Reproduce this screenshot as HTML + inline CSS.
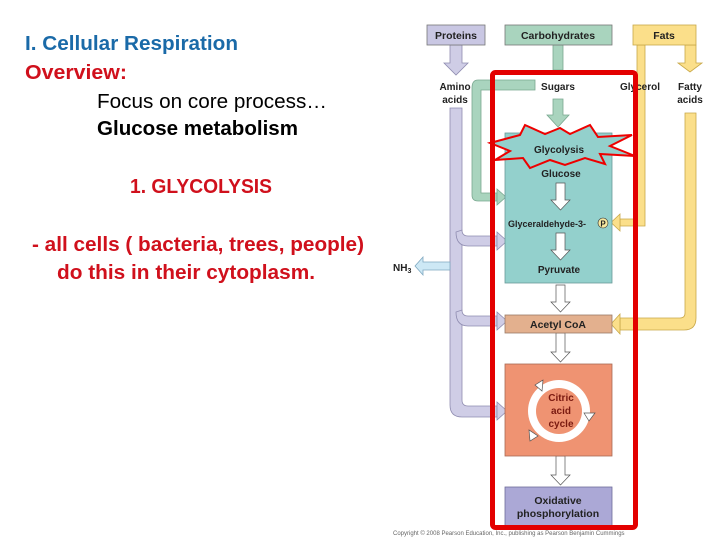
<!DOCTYPE html>
<html><head><style>body{margin:0;background:#fff}svg{display:block}</style></head><body>
<svg width="720" height="540" xmlns="http://www.w3.org/2000/svg" font-family="Liberation Sans, sans-serif">
<g font-size="20" font-weight="bold">
<text x="25" y="50" fill="#1a6aa8" textLength="213" lengthAdjust="spacingAndGlyphs">I. Cellular Respiration</text>
<text x="25" y="79" fill="#d0101c" textLength="102" lengthAdjust="spacingAndGlyphs">Overview:</text>
<text x="97" y="108" fill="#000" font-weight="normal" textLength="230" lengthAdjust="spacingAndGlyphs">Focus on core process…</text>
<text x="97" y="135" fill="#000" textLength="201" lengthAdjust="spacingAndGlyphs">Glucose metabolism</text>
<text x="130" y="193" fill="#d0101c" textLength="142" lengthAdjust="spacingAndGlyphs">1. GLYCOLYSIS</text>
<text x="32" y="251" fill="#d0101c" textLength="332" lengthAdjust="spacingAndGlyphs">- all cells ( bacteria, trees, people)</text>
<text x="57" y="279" fill="#d0101c" textLength="258" lengthAdjust="spacingAndGlyphs">do this in their cytoplasm.</text>
</g>
<g fill="#cfcde6" stroke="#8f8cb0" stroke-width="0.8">
<path d="M450 108 H462 V400 Q462 406 468 406 H497 V417 H462 Q450 417 450 405 Z"/>
<path d="M462 230 Q462 236 468 236 H497 V246 H468 Q456 246 456 232 Z"/>
<path d="M462 310 Q462 316 468 316 H497 V326 H468 Q456 326 456 312 Z"/>
<polygon points="497,402 507,411 497,420"/>
<polygon points="497,232 507,241 497,250"/>
<polygon points="497,312 507,321 497,330"/>
<polygon points="450,45 462,45 462,63 468,63 456,75 444,63 450,63"/>
</g>
<polygon points="450,262 423,262 423,257 415,266 423,275 423,270 450,270" fill="#cde8f5" stroke="#7fa8c0" stroke-width="0.8"/>
<text x="393" y="271" font-size="10" font-weight="bold" fill="#222">NH<tspan font-size="7" dy="2">3</tspan></text>
<g fill="#a9d4be" stroke="#7aa890" stroke-width="0.8">
<polygon points="553,45 563,45 563,70 553,70"/>
<path d="M535 80 H478 Q472 80 472 88 V195 Q472 201 478 201 H497 V193 H481 V90 H535 Z"/>
<polygon points="497,189 506,197 497,205"/>
<polygon points="553,99 563,99 563,115 569,115 558,127 547,115 553,115"/>
</g>
<g fill="#fbdf8a" stroke="#c9a848" stroke-width="0.8">
<polygon points="637,45 645,45 645,226 620,226 620,219 637,219"/>
<polygon points="620,214 611,222.5 620,231"/>
<polygon points="685,45 696,45 696,63 702,63 690,72 678,63 685,63"/>
<path d="M685 113 H696 V318 Q696 330 684 330 H620 V318 H680 Q685 318 685 313 Z"/>
<polygon points="620,314 611,324 620,334"/>
</g>
<rect x="427" y="25" width="58" height="20" fill="#c9c7e3" stroke="#777" stroke-width="0.8"/>
<text x="456" y="39" font-size="10.5" font-weight="bold" text-anchor="middle" fill="#222">Proteins</text>
<rect x="505" y="25" width="107" height="20" fill="#a9d4be" stroke="#777" stroke-width="0.8"/>
<text x="558" y="39" font-size="10.5" font-weight="bold" text-anchor="middle" fill="#222">Carbohydrates</text>
<rect x="633" y="25" width="63" height="20" fill="#fbdf8a" stroke="#c9a848" stroke-width="0.8"/>
<text x="664" y="39" font-size="10.5" font-weight="bold" text-anchor="middle" fill="#222">Fats</text>
<g font-size="10" font-weight="bold" fill="#222" text-anchor="middle">
<text x="455" y="90">Amino</text><text x="455" y="103">acids</text>
<text x="558" y="90">Sugars</text>
<text x="640" y="90">Glycerol</text>
<text x="690" y="90">Fatty</text><text x="690" y="103">acids</text>
</g>
<rect x="505" y="133" width="107" height="150" fill="#93d0cc" stroke="#6a9a98" stroke-width="0.8"/>
<polygon points="490,143 520,135 525,125 545,134 560,128 570,134 590,125 598,137 632,135 610,146 635,156 600,154 605,164 585,158 565,165 550,160 530,168 523,158 495,160 510,151" fill="#93d0cc" stroke="#e00" stroke-width="2"/>
<text x="559" y="153" font-size="10" font-weight="bold" text-anchor="middle" fill="#222">Glycolysis</text>
<text x="561" y="177" font-size="10" font-weight="bold" text-anchor="middle" fill="#222">Glucose</text>
<g fill="#fff" stroke="#555" stroke-width="0.7">
<polygon points="556,183 565,183 565,200 570,200 560.5,210 551,200 556,200"/>
<polygon points="556,233 565,233 565,250 570,250 560.5,260 551,250 556,250"/>
<polygon points="556,285 565,285 565,302 570,302 560.5,312 551,302 556,302"/>
<polygon points="556,333 565,333 565,352 570,352 560.5,362 551,352 556,352"/>
<polygon points="556,456 565,456 565,475 570,475 560.5,485 551,475 556,475"/>
</g>
<text x="508" y="227" font-size="9" font-weight="bold" fill="#222">Glyceraldehyde-3-</text>
<circle cx="603" cy="223" r="5" fill="#f7e9a0" stroke="#333" stroke-width="0.6"/>
<text x="603" y="226.5" font-size="8" font-weight="bold" text-anchor="middle" fill="#222">P</text>
<text x="559" y="273" font-size="10" font-weight="bold" text-anchor="middle" fill="#222">Pyruvate</text>
<rect x="505" y="315" width="107" height="18" fill="#e3b08e" stroke="#9a7a66" stroke-width="0.8"/>
<text x="558" y="328" font-size="10.5" font-weight="bold" text-anchor="middle" fill="#222">Acetyl CoA</text>
<rect x="505" y="364" width="107" height="92" fill="#ef9372" stroke="#a86a55" stroke-width="0.8"/>
<circle cx="559" cy="411" r="31" fill="#fff"/>
<circle cx="559" cy="411" r="23" fill="#ef9372"/>
<g fill="#fff" stroke="#555" stroke-width="0.7">
<polygon points="535,385 543,380 542,391"/>
<polygon points="584,413 595,413 589,421"/>
<polygon points="529,430 530,441 538,436"/>
</g>
<g font-size="10" font-weight="bold" fill="#7a1a10" text-anchor="middle">
<text x="561" y="401">Citric</text><text x="561" y="414">acid</text><text x="561" y="427">cycle</text>
</g>
<rect x="505" y="487" width="107" height="40" fill="#aba8d6" stroke="#6f6c99" stroke-width="0.8"/>
<text x="558" y="504" font-size="10.5" font-weight="bold" text-anchor="middle" fill="#222">Oxidative</text>
<text x="558" y="517" font-size="10.5" font-weight="bold" text-anchor="middle" fill="#222">phosphorylation</text>
<rect x="492.5" y="72.5" width="143" height="455" rx="3" fill="none" stroke="#e30000" stroke-width="5"/>
<text x="393" y="535" font-size="6" fill="#666">Copyright © 2008 Pearson Education, Inc., publishing as Pearson Benjamin Cummings</text>
</svg>
</body></html>
